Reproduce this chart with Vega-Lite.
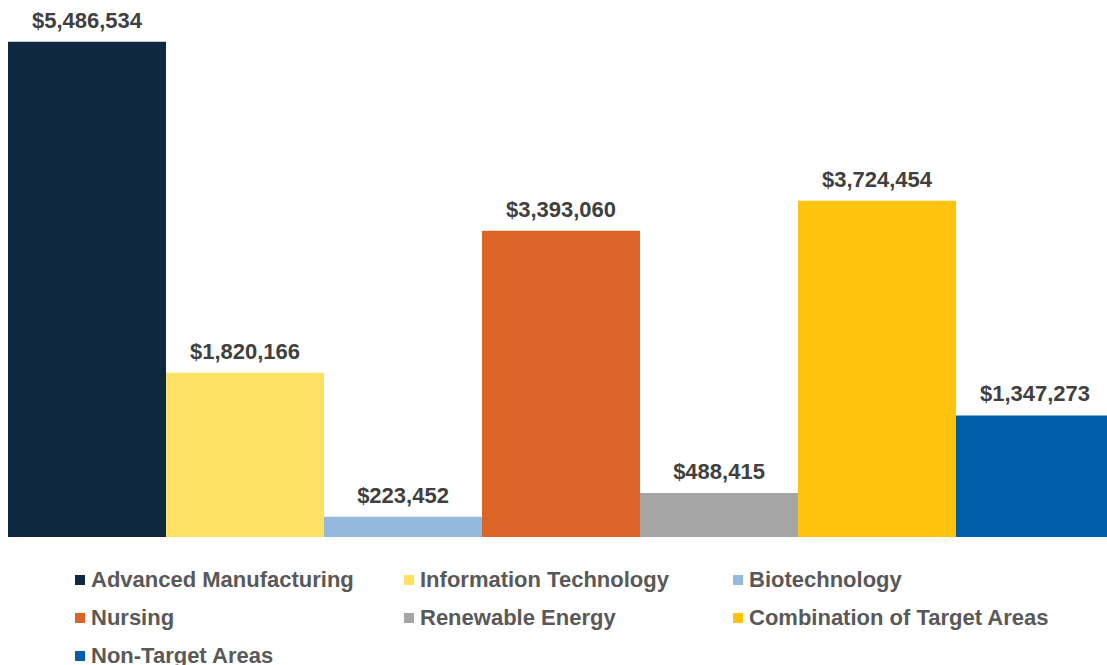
{
  "$schema": "https://vega.github.io/schema/vega-lite/v6.json",
  "autosize": "none",
  "width": 1106,
  "height": 537,
  "padding": {"left": 8, "top": 0, "right": -7, "bottom": 128},
  "background": "white",
  "config": {"view": {"stroke": null}, "font": "Liberation Sans"},
  "data": {"values": [
    {"category": "Advanced Manufacturing", "amount": 5486534},
    {"category": "Information Technology", "amount": 1820166},
    {"category": "Biotechnology", "amount": 223452},
    {"category": "Nursing", "amount": 3393060},
    {"category": "Renewable Energy", "amount": 488415},
    {"category": "Combination of Target Areas", "amount": 3724454},
    {"category": "Non-Target Areas", "amount": 1347273}
  ]},
  "encoding": {
    "x": {"field": "category", "type": "nominal", "sort": null,
          "scale": {"paddingInner": 0, "paddingOuter": 0}, "axis": null},
    "y": {"field": "amount", "type": "quantitative",
          "scale": {"domain": [0, 5950000], "nice": false}, "axis": null}
  },
  "layer": [
    {
      "mark": {"type": "bar"},
      "encoding": {
        "color": {"field": "category", "type": "nominal", "sort": null,
          "scale": {
            "domain": ["Advanced Manufacturing", "Information Technology", "Biotechnology", "Nursing", "Renewable Energy", "Combination of Target Areas", "Non-Target Areas"],
            "range": ["#0E2841", "#FFE265", "#95B9DE", "#DC6426", "#A5A5A5", "#FFC20E", "#005DAA"]
          },
          "legend": {
            "title": null,
            "orient": "none",
            "legendX": 61,
            "legendY": 569,
            "direction": "horizontal",
            "columns": 3,
            "gridAlign": "all",
            "columnPadding": 6,
            "rowPadding": 16,
            "symbolType": "square",
            "symbolSize": 100,
            "symbolStrokeWidth": 0,
            "labelFont": "Liberation Sans",
            "labelFontSize": 22,
            "labelFontWeight": "bold",
            "labelColor": "#595959",
            "labelOffset": 0,
            "labelLimit": 400
          }
        }
      }
    },
    {
      "mark": {"type": "text", "baseline": "alphabetic", "dy": -14, "fontSize": 22, "fontWeight": "bold", "color": "#404040", "font": "Liberation Sans"},
      "encoding": {
        "text": {"field": "amount", "type": "quantitative", "format": "$,.0f"}
      }
    }
  ]
}
